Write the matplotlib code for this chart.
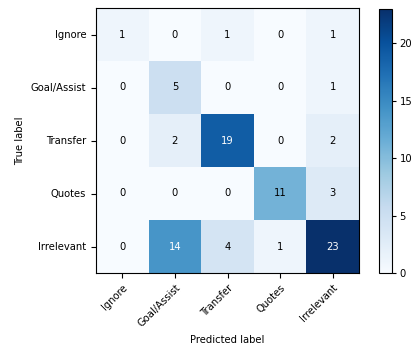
import numpy as np
import matplotlib
matplotlib.use("Agg")
import matplotlib.pyplot as plt

classes = ["Ignore", "Goal/Assist", "Transfer", "Quotes", "Irrelevant"]
cm = np.array([
    [1, 0, 1, 0, 1],
    [0, 5, 0, 0, 1],
    [0, 2, 19, 0, 2],
    [0, 0, 0, 11, 3],
    [0, 14, 4, 1, 23],
])

plt.rcParams["font.size"] = 7.2
fig = plt.figure(figsize=(4.13, 3.49), dpi=100)
ax = fig.add_axes([96 / 413, 1 - 273 / 349, 263 / 413, 265 / 349])
cax = fig.add_axes([379 / 413, 1 - 273 / 349, 13 / 413, 264 / 349])

im = ax.imshow(cm, interpolation="nearest", cmap=plt.cm.Blues, aspect="auto")
cb = fig.colorbar(im, cax=cax)
cb.set_ticks([0, 5, 10, 15, 20])
cax.tick_params(length=3, pad=2.5)

ax.set_xticks(np.arange(len(classes)))
ax.set_yticks(np.arange(len(classes)))
ax.set_xticklabels(classes, rotation=45, ha="right", rotation_mode="anchor")
ax.set_yticklabels(classes)
ax.set_xlabel("Predicted label")
ax.set_ylabel("True label")

thresh = cm.max() / 2.0
for i in range(cm.shape[0]):
    for j in range(cm.shape[1]):
        ax.text(j, i, format(cm[i, j], "d"), ha="center", va="center",
                color="white" if cm[i, j] > thresh else "black")

fig.savefig("out.png", dpi=100)
